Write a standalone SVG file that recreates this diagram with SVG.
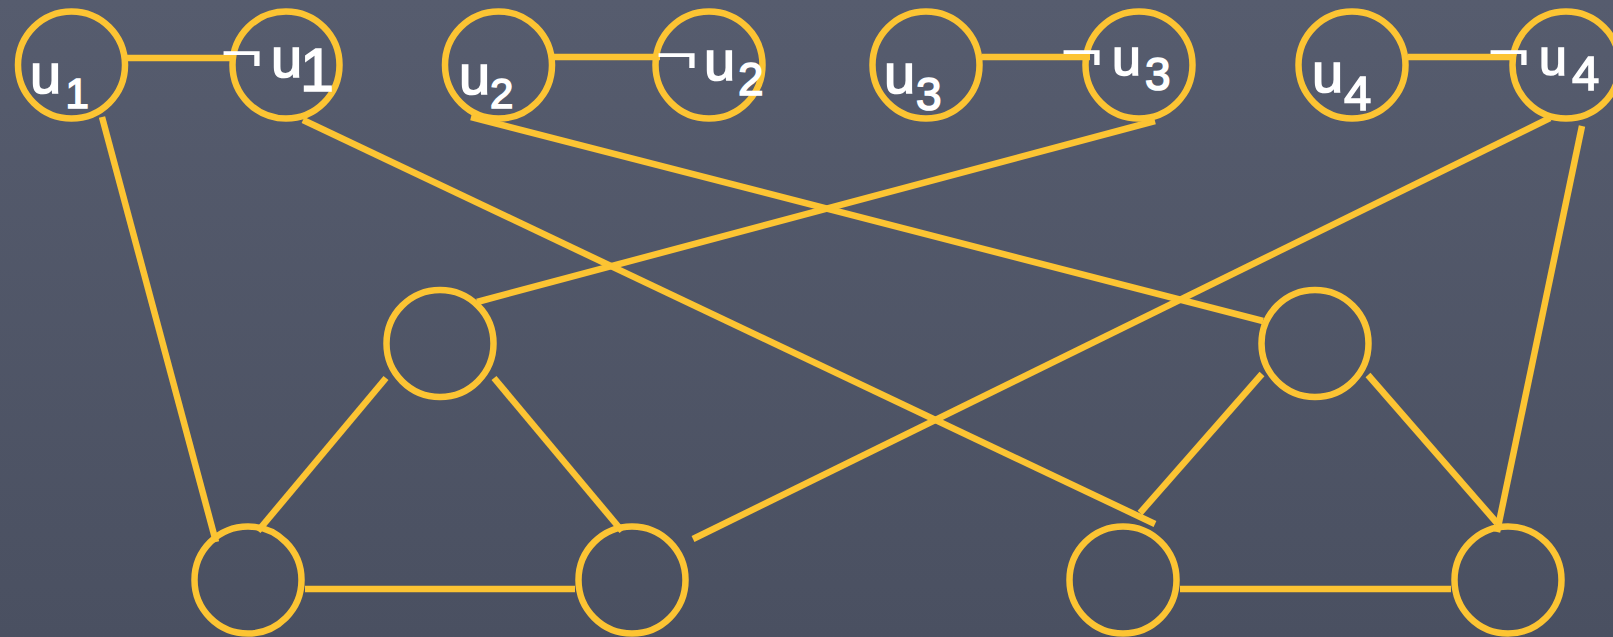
<svg xmlns="http://www.w3.org/2000/svg" width="1613" height="637" viewBox="0 0 1613 637">
<defs>
<linearGradient id="bg" x1="0" y1="0" x2="0" y2="1">
<stop offset="0" stop-color="#565c6e"/>
<stop offset="1" stop-color="#4a5061"/>
</linearGradient>
<style>
.node{fill:none;stroke:#fcc433;stroke-width:6.5}
.edge{stroke:#fcc433;stroke-width:6.5;fill:none;stroke-linecap:butt}
.lbl{fill:#ffffff;stroke:#ffffff;stroke-width:1.6;font-family:"Liberation Sans",Arial,sans-serif}
.neg{fill:#ffffff;font-family:"Liberation Sans",Arial,sans-serif;font-size:74px}
</style>
</defs>
<rect width="1613" height="637" fill="url(#bg)"/>
<g id="connectors">
<line class="edge" x1="127" y1="58" x2="232" y2="58"/>
<line class="edge" x1="553" y1="57" x2="660" y2="57"/>
<line class="edge" x1="982" y1="57" x2="1090" y2="57"/>
<line class="edge" x1="1408" y1="57" x2="1516" y2="57"/>
<line class="edge" x1="102" y1="117" x2="216" y2="542"/>
<line class="edge" x1="303" y1="120" x2="1155" y2="524"/>
<line class="edge" x1="471" y1="117" x2="1263" y2="321"/>
<line class="edge" x1="1155" y1="121" x2="477" y2="302"/>
<line class="edge" x1="1550" y1="118" x2="693" y2="539"/>
<line class="edge" x1="1582" y1="126" x2="1497" y2="532"/>
<line class="edge" x1="386" y1="378" x2="258" y2="531"/>
<line class="edge" x1="494" y1="378" x2="622" y2="531"/>
<line class="edge" x1="305" y1="589" x2="575" y2="589"/>
<line class="edge" x1="1262" y1="374" x2="1140" y2="513"/>
<line class="edge" x1="1368" y1="375" x2="1497" y2="523"/>
<line class="edge" x1="1180" y1="589" x2="1451" y2="589"/>
</g>
<g id="n-u1"><circle class="node" cx="71.5" cy="65" r="53.5"/><text class="lbl" x="30" y="93" font-size="56">u</text><text class="lbl" x="65.5" y="108" font-size="42">1</text></g>
<g id="n-not-u1"><circle class="node" cx="286" cy="65" r="53.5"/><text class="neg" transform="translate(220,70) scale(1,0.7)">¬</text><text class="lbl" x="271" y="77" font-size="56">u</text><text class="lbl" x="300" y="91" font-size="61">1</text></g>
<g id="n-u2"><circle class="node" cx="498.5" cy="65" r="53.5"/><text class="lbl" x="459" y="94" font-size="56">u</text><text class="lbl" x="490" y="108" font-size="42">2</text></g>
<g id="n-not-u2"><circle class="node" cx="709" cy="65" r="53.5"/><text class="neg" transform="translate(655,72) scale(1,0.7)">¬</text><text class="lbl" x="704" y="80" font-size="56">u</text><text class="lbl" x="738" y="95" font-size="46">2</text></g>
<g id="n-u3"><circle class="node" cx="926" cy="65" r="53.5"/><text class="lbl" x="884" y="93" font-size="56">u</text><text class="lbl" x="916" y="110" font-size="46">3</text></g>
<g id="n-not-u3"><circle class="node" cx="1139" cy="65" r="53.5"/><text class="neg" transform="translate(1060,69) scale(1,0.7)">¬</text><text class="lbl" x="1112" y="75" font-size="52">u</text><text class="lbl" x="1145" y="90" font-size="46">3</text></g>
<g id="n-u4"><circle class="node" cx="1352" cy="65" r="53.5"/><text class="lbl" x="1312" y="92" font-size="56">u</text><text class="lbl" x="1344" y="110" font-size="49">4</text></g>
<g id="n-not-u4"><circle class="node" cx="1566" cy="65" r="53.5"/><text class="neg" transform="translate(1487,69) scale(1,0.7)">¬</text><text class="lbl" x="1539" y="75" font-size="50">u</text><text class="lbl" x="1572" y="90" font-size="49">4</text></g>
<g id="n-mid-left"><circle class="node" cx="440" cy="343.5" r="53.5"/></g>
<g id="n-mid-right"><circle class="node" cx="1315" cy="343.5" r="53.5"/></g>
<g id="n-bot-1"><circle class="node" cx="248" cy="580" r="53.5"/></g>
<g id="n-bot-2"><circle class="node" cx="632" cy="580" r="53.5"/></g>
<g id="n-bot-3"><circle class="node" cx="1123" cy="580" r="53.5"/></g>
<g id="n-bot-4"><circle class="node" cx="1508" cy="580" r="53.5"/></g>
</svg>
